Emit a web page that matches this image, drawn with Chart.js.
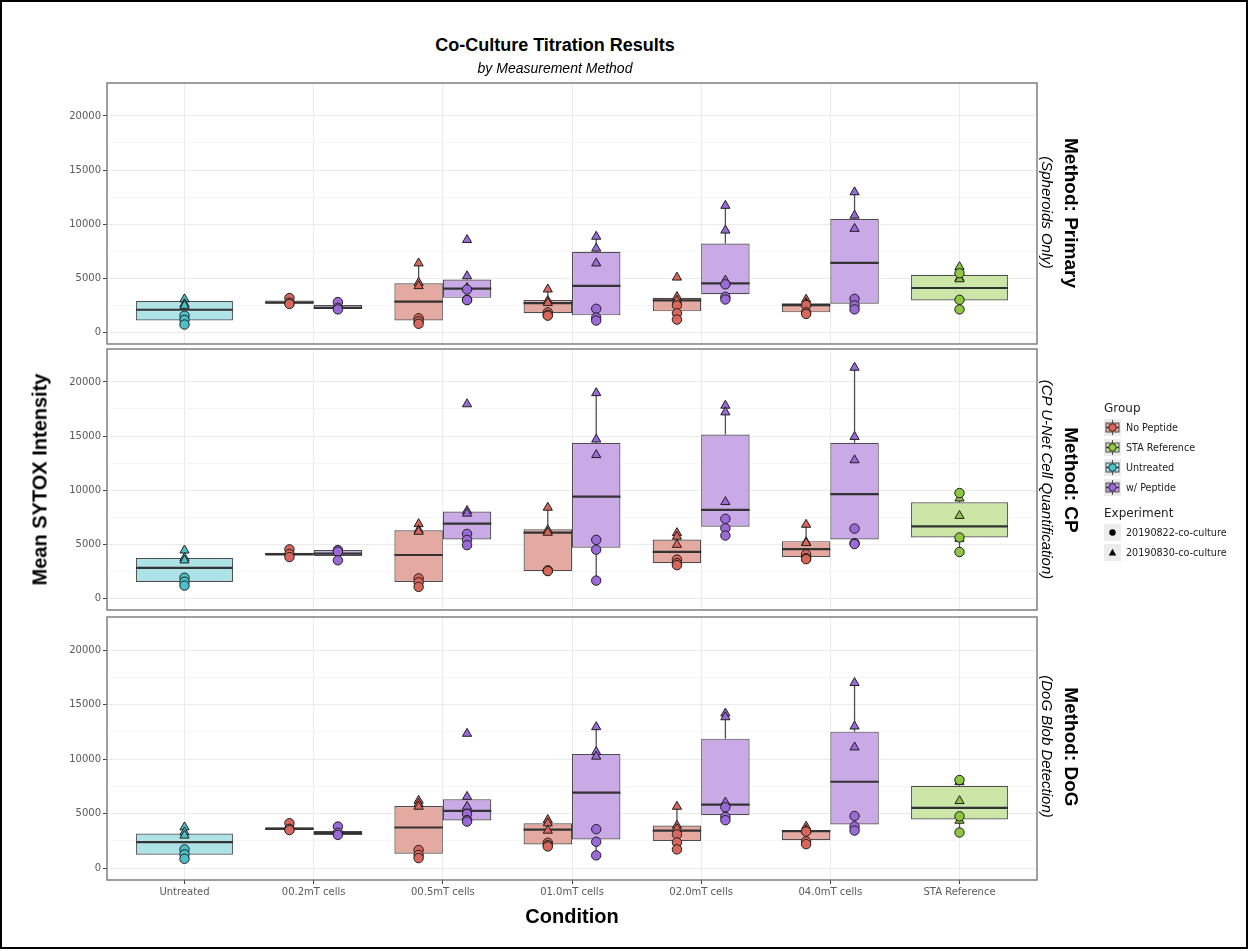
<!DOCTYPE html>
<html>
<head>
<meta charset="utf-8">
<script src="https://cdn.jsdelivr.net/npm/chart.js@4.4.1/dist/chart.umd.min.js"></script>
<style>
  body { margin: 0; background: #fff; }
  #page { position: relative; width: 1249px; height: 951px; overflow: hidden; background: #fff; }
  #frame { position: absolute; left: 0; top: 0; width: 1248px; height: 949px; box-sizing: border-box; border: 2px solid #000; pointer-events: none; }
  canvas { position: absolute; left: 0; }
  .txt { position: absolute; white-space: nowrap; font-family: 'Liberation Sans', Arial, sans-serif; color: #000; }
  .rot { text-align: center; }
  .legend { position: absolute; left: 1104px; top: 400px; font-family: 'DejaVu Sans', sans-serif; color: #222; }
  .legend .head { font-size: 12px; height: 17px; line-height: 17px; }
  .legend .row { display: flex; align-items: center; height: 20px; font-size: 9.6px; }
  .legend .row svg { margin-right: 5px; }
</style>
</head>
<body>
<div id="page">
  <canvas id="p0" width="1249" height="277" style="top:75px"></canvas>
  <canvas id="p1" width="1249" height="277" style="top:341px"></canvas>
  <canvas id="p2" width="1249" height="297" style="top:609px"></canvas>

  <div class="txt" style="left:355px; width:400px; top:35px; text-align:center; font-size:18px; font-weight:bold;">Co-Culture Titration Results</div>
  <div class="txt" style="left:355px; width:400px; top:60px; text-align:center; font-size:14px; font-style:italic;">by Measurement Method</div>

  <div class="txt rot" style="left:-160px; width:400px; top:468px; font-size:20px; font-weight:bold; transform:rotate(-90deg);">Mean SYTOX Intensity</div>
  <div class="txt" style="left:472px; width:200px; top:905px; text-align:center; font-size:20px; font-weight:bold;">Condition</div>

  <div class="txt rot" style="left:921px; width:300px; top:202px; font-size:19px; font-weight:bold; transform:rotate(90deg);">Method: Primary</div>
  <div class="txt rot" style="left:897px; width:300px; top:204px; font-size:15px; font-style:italic; transform:rotate(90deg);">(Spheroids Only)</div>
  <div class="txt rot" style="left:921px; width:300px; top:469px; font-size:19px; font-weight:bold; transform:rotate(90deg);">Method: CP</div>
  <div class="txt rot" style="left:897px; width:300px; top:471px; font-size:15px; font-style:italic; transform:rotate(90deg);">(CP U-Net Cell Quantification)</div>
  <div class="txt rot" style="left:921px; width:300px; top:736px; font-size:19px; font-weight:bold; transform:rotate(90deg);">Method: DoG</div>
  <div class="txt rot" style="left:897px; width:300px; top:738px; font-size:15px; font-style:italic; transform:rotate(90deg);">(DoG Blob Detection)</div>

  <div class="legend" id="legend"></div>
  <div id="frame"></div>
</div>

<script>
// categories and groups
const CONDITIONS = ['Untreated', '00.2mT cells', '00.5mT cells', '01.0mT cells', '02.0mT cells', '04.0mT cells', 'STA Reference'];
const GROUPS = ['No Peptide', 'STA Reference', 'Untreated', 'w/ Peptide'];
const EXPERIMENTS = ['20190822-co-culture', '20190830-co-culture'];
const Y_TICKS = [0, 2500, 5000, 7500, 10000, 12500, 15000, 17500, 20000];

// box stats per condition: [whisker low, q1, median, q3, whisker high]
const PRIMARY_NOPEP_BOX = [null, [2600, 2650, 2730, 2920, 3150], [770, 1070, 2830, 4510, 6370], [1520, 1740, 2680, 2960, 3960], [1160, 1920, 2930, 3170, 3260], [1680, 1830, 2500, 2680, 3020], null];
const PRIMARY_STA_BOX = [null, null, null, null, null, null, [2100, 2930, 4080, 5300, 6030]];
const PRIMARY_UNTR_BOX = [[700, 1070, 2070, 2870, 3050], null, null, null, null, null, null];
const PRIMARY_WPEP_BOX = [null, [2100, 2170, 2250, 2500, 2780], [2960, 3170, 4020, 4875, 5180], [1070, 1550, 4270, 7440, 8840], [3020, 3500, 4510, 8200, 11700], [2100, 2620, 6400, 10480, 12950], null];

const CP_NOPEP_BOX = [null, [3800, 3930, 4080, 4200, 4510], [1040, 1490, 3990, 6280, 6860], [2500, 2500, 6060, 6370, 8380], [3050, 3230, 4270, 5420, 6030], [3600, 3780, 4540, 5270, 6800], null];
const CP_STA_BOX = [null, null, null, null, null, null, [4270, 5610, 6640, 8870, 9720]];
const CP_UNTR_BOX = [[1160, 1490, 2800, 3720, 4420], null, null, null, null, null, null];
const CP_WPEP_BOX = [null, [3500, 3900, 4110, 4450, 4510], [4900, 5420, 6890, 8010, 8080], [1620, 4660, 9390, 14380, 18980], [5790, 6610, 8170, 15140, 17820], [5000, 5420, 9630, 14380, 21330], null];

const DOG_NOPEP_BOX = [null, [3460, 3480, 3600, 3750, 4110], [910, 1310, 3720, 5700, 6190], [1980, 2160, 3530, 4110, 4420], [1710, 2470, 3440, 3900, 5640], [2190, 2560, 3380, 3440, 3810], null];
const DOG_STA_BOX = [null, null, null, null, null, null, [3260, 4450, 5520, 7560, 8080]];
const DOG_UNTR_BOX = [[850, 1220, 2380, 3170, 3750], null, null, null, null, null, null];
const DOG_WPEP_BOX = [null, [3020, 3040, 3230, 3410, 3810], [4270, 4360, 5240, 6310, 6550], [1160, 2620, 6920, 10480, 12950], [4390, 4850, 5820, 11880, 14200], [3440, 3990, 7920, 12520, 17000], null];

// individual points, experiment 20190822 (circles) and 20190830 (triangles)
const PRIMARY_NOPEP_0822 = [null, [3150, 2730, 2600], [1280, 1000, 770], [1830, 1600, 1520], [2470, 1740, 1160], [2500, 1830, 1680], null];
const PRIMARY_NOPEP_0830 = [null, [], [6370, 4570, 4270], [3960, 2900, 2700], [5060, 3260, 2920], [3020, 2700, 2600], null];
const PRIMARY_STA_0822 = [null, null, null, null, null, null, [5450, 2990, 2100]];
const PRIMARY_STA_0830 = [null, null, null, null, null, null, [6030, 5000, 4900]];
const PRIMARY_UNTR_0822 = [[1520, 1130, 700], null, null, null, null, null, null];
const PRIMARY_UNTR_0830 = [[3050, 2600, 2450], null, null, null, null, null, null];
const PRIMARY_WPEP_0822 = [null, [2780, 2250, 2100], [3950, 3000, 2960], [2160, 1340, 1070], [4420, 3260, 3020], [3080, 2470, 2100], null];
const PRIMARY_WPEP_0830 = [null, [], [8530, 5180, 4100], [8840, 7740, 6370], [11700, 9410, 4780], [12950, 10790, 9570], null];

const CP_NOPEP_0822 = [null, [4510, 4080, 3800], [1830, 1460, 1040], [2560, 2530, 2500], [3570, 3230, 3050], [4050, 3700, 3600], null];
const CP_NOPEP_0830 = [null, [], [6860, 6300, 6150], [8380, 6300, 6060], [6030, 5700, 4940], [6800, 5180, 5100], null];
const CP_STA_0822 = [null, null, null, null, null, null, [9720, 5610, 4270]];
const CP_STA_0830 = [null, null, null, null, null, null, [9230, 7620, 5500]];
const CP_UNTR_0822 = [[1890, 1520, 1160], null, null, null, null, null, null];
const CP_UNTR_0830 = [[4420, 3720, 3500], null, null, null, null, null, null];
const CP_WPEP_0822 = [null, [4450, 4300, 3500], [5940, 5390, 4900], [5390, 4480, 1620], [7340, 6460, 5790], [6430, 5090, 5000], null];
const CP_WPEP_0830 = [null, [], [17950, 8080, 7830], [18980, 14690, 13250], [17820, 17200, 8900], [21330, 14930, 12770], null];

const DOG_NOPEP_0822 = [null, [4110, 3600, 3480], [1650, 1200, 910], [2320, 2100, 1980], [3080, 2350, 1710], [3350, 2440, 2190], null];
const DOG_NOPEP_0830 = [null, [], [6190, 5900, 5640], [4420, 4110, 3440], [5640, 3900, 3600], [3810, 3500, 3440], null];
const DOG_STA_0822 = [null, null, null, null, null, null, [8080, 4750, 3260]];
const DOG_STA_0830 = [null, null, null, null, null, null, [7900, 6160, 4360]];
const DOG_UNTR_0822 = [[1710, 1250, 850], null, null, null, null, null, null];
const DOG_UNTR_0830 = [[3750, 3290, 2990], null, null, null, null, null, null];
const DOG_WPEP_0822 = [null, [3810, 3230, 3040], [4970, 4400, 4270], [3570, 2410, 1160], [5580, 4690, 4390], [4780, 3810, 3440], null];
const DOG_WPEP_0830 = [null, [], [12340, 6550, 5640], [12950, 10660, 10240], [14200, 13860, 6030], [17000, 13010, 11090], null];

const BOX_FILL = ['#e4a9a1', '#cbe6a7', '#ade2e7', '#c9aae6'];
const POINT_FILL = ['#d9665a', '#8dc641', '#4cc1c9', '#9b6ad8'];
const BOX_WIDTH = 0.75;

const PANELS = [
    { id: 'p0', boxes: [PRIMARY_NOPEP_BOX, PRIMARY_STA_BOX, PRIMARY_UNTR_BOX, PRIMARY_WPEP_BOX],
      pts: [[PRIMARY_NOPEP_0822, PRIMARY_NOPEP_0830], [PRIMARY_STA_0822, PRIMARY_STA_0830], [PRIMARY_UNTR_0822, PRIMARY_UNTR_0830], [PRIMARY_WPEP_0822, PRIMARY_WPEP_0830]], showX: false },
    { id: 'p1', boxes: [CP_NOPEP_BOX, CP_STA_BOX, CP_UNTR_BOX, CP_WPEP_BOX],
      pts: [[CP_NOPEP_0822, CP_NOPEP_0830], [CP_STA_0822, CP_STA_0830], [CP_UNTR_0822, CP_UNTR_0830], [CP_WPEP_0822, CP_WPEP_0830]], showX: false },
    { id: 'p2', boxes: [DOG_NOPEP_BOX, DOG_STA_BOX, DOG_UNTR_BOX, DOG_WPEP_BOX],
      pts: [[DOG_NOPEP_0822, DOG_NOPEP_0830], [DOG_STA_0822, DOG_STA_0830], [DOG_UNTR_0822, DOG_UNTR_0830], [DOG_WPEP_0822, DOG_WPEP_0830]], showX: true }
];

// whiskers and median line on top of each box
const boxExtras = {
    id: 'boxExtras',
    afterDatasetDraw(chart, args) {
        if (args.meta.type !== 'bar') return;
        const stats = chart.data.datasets[args.index].stats;
        const y = chart.scales.y;
        const ctx = chart.ctx;
        ctx.save();
        args.meta.data.forEach((bar, i) => {
            const s = stats[i];
            if (!s) return;
            const [lo, q1, med, q3, hi] = s;
            ctx.strokeStyle = '#505050';
            ctx.lineWidth = 1.3;
            ctx.beginPath();
            ctx.moveTo(bar.x, y.getPixelForValue(q3));
            ctx.lineTo(bar.x, y.getPixelForValue(hi));
            ctx.moveTo(bar.x, y.getPixelForValue(q1));
            ctx.lineTo(bar.x, y.getPixelForValue(lo));
            ctx.stroke();
            ctx.strokeStyle = '#333';
            ctx.lineWidth = 2.2;
            ctx.beginPath();
            ctx.moveTo(bar.x - bar.width / 2, y.getPixelForValue(med));
            ctx.lineTo(bar.x + bar.width / 2, y.getPixelForValue(med));
            ctx.stroke();
        });
        ctx.restore();
    }
};

const panelBorder = {
    id: 'panelBorder',
    afterDatasetsDraw(chart) {
        const { ctx, chartArea: a } = chart;
        ctx.save();
        ctx.strokeStyle = '#777';
        ctx.lineWidth = 1.4;
        ctx.strokeRect(a.left, a.top, a.right - a.left, a.bottom - a.top);
        ctx.restore();
    }
};

// dodge offset, same as the boxes: groups present at a condition share the box width
function dodge(boxes, g, i) {
    const present = boxes.map((b, k) => b[i] ? k : -1).filter(k => k >= 0);
    const n = present.length;
    const slot = present.indexOf(g);
    return (slot - (n - 1) / 2) * BOX_WIDTH / n;
}

function buildPanel(panel) {
    const datasets = [];
    panel.boxes.forEach((box, g) => {
        datasets.push({
            type: 'bar',
            label: GROUPS[g],
            data: CONDITIONS.map((c, i) => ({ x: i, y: box[i] ? [box[i][1], box[i][3]] : null })),
            stats: box,
            backgroundColor: BOX_FILL[g],
            borderColor: '#4d4d4d',
            borderWidth: 1.2,
            borderSkipped: false,
            skipNull: true,
            categoryPercentage: BOX_WIDTH,
            barPercentage: 1,
            order: 1
        });
    });
    panel.pts.forEach((byExp, g) => {
        byExp.forEach((vals, e) => {
            datasets.push({
                type: 'scatter',
                label: GROUPS[g] + ' ' + EXPERIMENTS[e],
                data: vals.flatMap((v, i) => (v || []).map(val => ({ x: i + dodge(panel.boxes, g, i), y: val }))),
                pointStyle: e === 0 ? 'circle' : 'triangle',
                pointRadius: e === 0 ? 4.7 : 5.3,
                backgroundColor: POINT_FILL[g],
                borderColor: '#1e1e1e',
                borderWidth: 1,
                order: 0
            });
        });
    });

    const showX = panel.showX;
    new Chart(document.getElementById(panel.id), {
        type: 'bar',
        data: { datasets },
        options: {
            responsive: false,
            animation: false,
            devicePixelRatio: 1,
            layout: { padding: { top: 6, bottom: showX ? 0 : 6, left: 0, right: 212 } },
            plugins: { legend: { display: false }, tooltip: { enabled: false } },
            scales: {
                x: {
                    type: 'linear',
                    min: -0.6,
                    max: 6.6,
                    offset: false,
                    afterBuildTicks: s => { s.ticks = CONDITIONS.map((c, i) => ({ value: i })); },
                    afterFit: s => { s.height = showX ? 26 : 0; },
                    ticks: {
                        display: showX,
                        autoSkip: false,
                        maxRotation: 0,
                        padding: 2,
                        color: '#5a5a5a',
                        font: { family: 'DejaVu Sans', size: 10 },
                        callback: v => CONDITIONS[v]
                    },
                    grid: { offset: false, color: '#ebebeb', drawTicks: showX, tickLength: 4, tickColor: '#444' },
                    border: { display: false }
                },
                y: {
                    min: -1100,
                    max: 23050,
                    afterBuildTicks: s => { s.ticks = Y_TICKS.map(v => ({ value: v })); },
                    afterFit: s => { s.width = 107; },
                    ticks: {
                        padding: 2,
                        color: '#5a5a5a',
                        font: { family: 'DejaVu Sans', size: 10 },
                        callback: v => v % 5000 === 0 ? String(v) : ''
                    },
                    grid: {
                        color: c => c.tick && c.tick.value % 5000 === 0 ? '#ebebeb' : '#f4f4f4',
                        tickColor: c => c.tick && c.tick.value % 5000 === 0 ? '#444' : 'rgba(0,0,0,0)',
                        tickLength: 4
                    },
                    border: { display: false }
                }
            }
        },
        plugins: [boxExtras, panelBorder]
    });
}

PANELS.forEach(buildPanel);

// legend
function groupKey(g) {
    return `<svg width="17" height="17"><rect x="0" y="0" width="17" height="17" fill="#ececec"/>` +
        `<line x1="8.5" y1="1" x2="8.5" y2="16" stroke="#505050" stroke-width="1"/>` +
        `<rect x="2" y="4" width="13" height="9" fill="${BOX_FILL[g]}" stroke="#4d4d4d" stroke-width="1"/>` +
        `<line x1="2" y1="8.5" x2="15" y2="8.5" stroke="#333" stroke-width="1.4"/>` +
        `<circle cx="8.5" cy="8.5" r="3.8" fill="${POINT_FILL[g]}" stroke="#1e1e1e" stroke-width="0.9"/></svg>`;
}
function expKey(e) {
    const shape = e === 0
        ? `<circle cx="8.5" cy="8.5" r="3.2" fill="#000"/>`
        : `<polygon points="8.5,4.8 12.2,11.6 4.8,11.6" fill="#000"/>`;
    return `<svg width="17" height="17"><rect x="0" y="0" width="17" height="17" fill="#ececec"/>${shape}</svg>`;
}
let html = '<div class="head">Group</div>';
GROUPS.forEach((name, g) => { html += `<div class="row">${groupKey(g)}<span>${name}</span></div>`; });
html += '<div class="head" style="margin-top:8px">Experiment</div>';
EXPERIMENTS.forEach((name, e) => { html += `<div class="row">${expKey(e)}<span>${name}</span></div>`; });
document.getElementById('legend').innerHTML = html;
</script>
</body>
</html>
